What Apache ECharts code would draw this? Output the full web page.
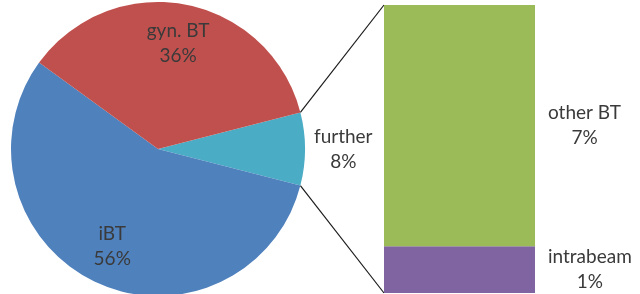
<!DOCTYPE html>
<html>
<head>
<meta charset="utf-8">
<script src="https://cdn.jsdelivr.net/npm/echarts@6/dist/echarts.min.js"></script>
<style>
  html, body { margin: 0; padding: 0; background: #fff; }
  #chart { width: 640px; height: 294px; }
</style>
</head>
<body>
<div id="chart"></div>
<script>
'use strict';
// pie-of-bar: share of treatments, "further" split into a stacked bar
const pieNames = ['further', 'iBT', 'gyn. BT'];
const pieValues = [8, 56, 36];
const pieColors = ['#4BACC6', '#4F81BD', '#C0504D'];
const barNames = ['intrabeam', 'other BT'];
const barValues = [1.3, 6.7];
const barColors = ['#8064A2', '#9BBB59'];

const FONT = 'Lato';
const TXT = '#3a3a3a';
const cx = 158, cy = 149, R = 147;
const grid = { left: 384, top: 5, width: 151, height: 288 };

const pieTotal = pieValues.reduce((a, b) => a + b, 0);
const half = pieValues[0] / pieTotal * 180; // half-angle of the "further" slice
const barTotal = barValues.reduce((a, b) => a + b, 0);

const chart = echarts.init(document.getElementById('chart'), null, { renderer: 'canvas' });

// centred two-line labels (name / percent)
const richC = { c: { align: 'center', fontFamily: FONT, fontSize: 19, color: TXT, lineHeight: 25 } };
const twoLine = (name, p) => '{c|' + name + '}\n{c|' + p + '%}';

chart.setOption({
  animation: false,
  grid: grid,
  xAxis: { type: 'category', data: ['split'], show: false },
  yAxis: { type: 'value', min: 0, max: barTotal, show: false },
  series: [
    {
      type: 'pie', center: [cx, cy], radius: R, startAngle: half, clockwise: true,
      silent: true,
      label: { show: false },
      labelLine: { show: false },
      data: pieNames.map((n, i) => ({
        name: n, value: pieValues[i], itemStyle: { color: pieColors[i] },
        label: i === 0 ? {
          show: true, position: 'outside',
          formatter: (p) => twoLine(p.name, Math.round(p.percent)),
          rich: richC,
        } : { show: false },
        labelLine: { show: false, length: 4, length2: 0 },
      })),
    },
    {
      // transparent ring that carries the inner labels at ~0.7 R
      type: 'pie', center: [cx, cy], radius: [62, R], startAngle: half, clockwise: true,
      silent: true,
      itemStyle: { color: 'rgba(0,0,0,0)' },
      labelLine: { show: false },
      data: pieNames.map((n, i) => ({
        name: n, value: pieValues[i],
        label: i === 0 ? { show: false } : {
          show: true, position: 'inside',
          formatter: (p) => twoLine(p.name, Math.round(p.percent)),
          rich: richC,
        },
      })),
    },
  ].concat(barNames.map((n, i) => ({
    type: 'bar', stack: 'split', name: n, barWidth: '100%',
    itemStyle: { color: barColors[i] },
    label: {
      show: true, position: 'right', distance: 13,
      formatter: () => twoLine(n, Math.round(barValues[i])),
      rich: richC,
    },
    data: [barValues[i]],
  }))),
});

// connector lines from the "further" slice edge to the bar corners
const a = half * Math.PI / 180;
const pTop = [cx + R * Math.cos(a), cy - R * Math.sin(a)];
const pBot = [cx + R * Math.cos(a), cy + R * Math.sin(a)];
const yTop = chart.convertToPixel({ yAxisIndex: 0 }, barTotal);
const yBot = chart.convertToPixel({ yAxisIndex: 0 }, 0);
chart.setOption({
  graphic: [
    { type: 'line', shape: { x1: pTop[0], y1: pTop[1], x2: grid.left, y2: yTop }, style: { stroke: '#1a1a1a', lineWidth: 1.2 } },
    { type: 'line', shape: { x1: pBot[0], y1: pBot[1], x2: grid.left, y2: yBot }, style: { stroke: '#1a1a1a', lineWidth: 1.2 } },
  ],
});
</script>
</body>
</html>
